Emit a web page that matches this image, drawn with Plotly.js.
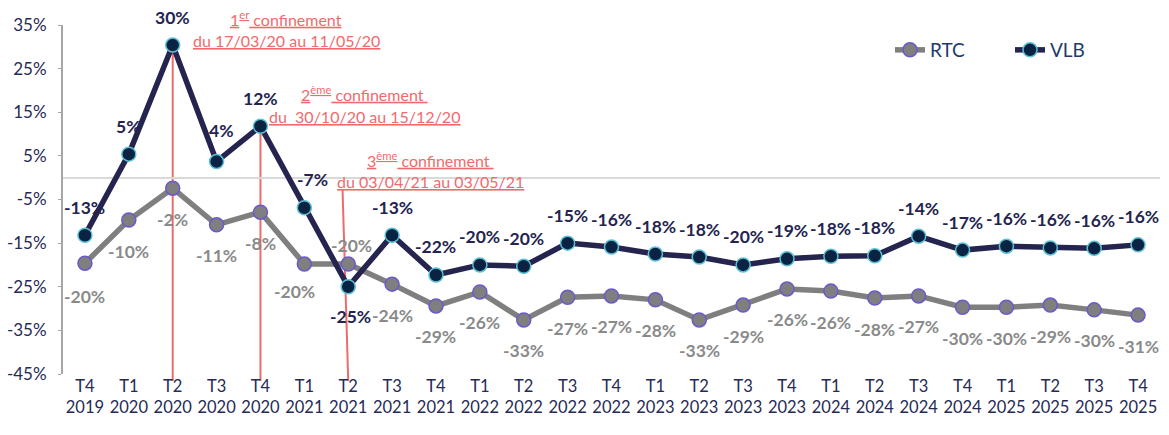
<!DOCTYPE html>
<html>
<head>
<meta charset="utf-8">
<script src="https://cdn.plot.ly/plotly-3.0.1.min.js"></script>
<style>html,body{margin:0;padding:0;background:#fff;}#chart{width:1169px;height:435px;}</style>
</head>
<body>
<div id="chart"></div>
<script>
// ---- data ----
const quarters = ["T4","T1","T2","T3","T4","T1","T2","T3","T4","T1","T2","T3","T4","T1","T2","T3","T4","T1","T2","T3","T4","T1","T2","T3","T4"];
const years    = ["2019","2020","2020","2020","2020","2021","2021","2021","2021","2022","2022","2022","2022","2023","2023","2023","2023","2024","2024","2024","2024","2025","2025","2025","2025"];
const rtc = [-19.6,-9.7,-2.4,-10.8,-7.9,-19.8,-19.8,-24.4,-29.4,-26.2,-32.6,-27.4,-27.1,-28.0,-32.6,-29.2,-25.5,-26.0,-27.6,-27.1,-29.7,-29.7,-29.2,-30.3,-31.5];
const vlb = [-13.2,5.4,30.4,3.7,11.8,-6.9,-25.0,-13.2,-22.3,-20.0,-20.3,-15.0,-15.9,-17.5,-18.2,-20.0,-18.6,-18.0,-17.9,-13.4,-16.6,-15.7,-16.1,-16.2,-15.4];
const rtcLabels = ["-20%","-10%","-2%","-11%","-8%","-20%","-20%","-24%","-29%","-26%","-33%","-27%","-27%","-28%","-33%","-29%","-26%","-26%","-28%","-27%","-30%","-30%","-29%","-30%","-31%"];
const vlbLabels = ["-13%","5%","30%","4%","12%","-7%","-25%","-13%","-22%","-20%","-20%","-15%","-16%","-18%","-18%","-20%","-19%","-18%","-18%","-14%","-17%","-16%","-16%","-16%","-16%"];
const lockdowns = [
  {idx: 2, top: "1<sup>er</sup> confinement", bottom: "du 17/03/20 au 11/05/20"},
  {idx: 4, top: "2<sup>ème</sup> confinement ", bottom: "du  30/10/20 au 15/12/20"},
  {idx: 6, top: "3<sup>ème</sup> confinement ", bottom: "du 03/04/21 au 03/05/21"}
];

const cats = quarters.map((q,i)=> q + "<br>" + years[i]);
const yMin = -45, yMax = 35;

// ---- style ----
const FONT = "Lato, 'Open Sans', sans-serif";
const navy = "#24244f";
const grey = "#7f7f7f";
const red = "#ef6b6b";

const traces = [
  {x: cats, y: rtc, name: "RTC", type: "scatter", mode: "lines+markers",
   line: {color: grey, width: 5.5},
   marker: {size: 14, color: grey, line: {color: "#6a5acd", width: 1.5}},
   cliponaxis: false, hoverinfo: "skip"},
  {x: cats, y: vlb, name: "VLB", type: "scatter", mode: "lines+markers",
   line: {color: navy, width: 5.5},
   marker: {size: 14, color: "#0a2342", line: {color: "#5bc2d6", width: 1.5}},
   cliponaxis: false, hoverinfo: "skip"}
];

// label offsets (pixels)
const vlbShift = vlb.map(()=>[0, 28]);
vlbShift[3] = [5, 31]; vlbShift[5] = [8, 28]; vlbShift[6] = [2, -30];
const rtcShift = rtc.map(()=>[0, -31]);
rtcShift[0] = [0, -33]; rtcShift[5] = [-10, -27]; rtcShift[6] = [3, 19];

const annotations = [];
vlb.forEach((v,i)=>{
  annotations.push({x: cats[i], y: v, xref: "x", yref: "y", text: "<b>"+vlbLabels[i]+"</b>", showarrow: false,
    xshift: vlbShift[i][0], yshift: vlbShift[i][1], font: {family: FONT, size: 17.5, color: navy}});
});
rtc.forEach((v,i)=>{
  annotations.push({x: cats[i], y: v, xref: "x", yref: "y", text: "<b>"+rtcLabels[i]+"</b>", showarrow: false,
    xshift: rtcShift[i][0], yshift: rtcShift[i][1], font: {family: FONT, size: 17.5, color: "#8a8a8a"}});
});

// lockdown annotation text boxes (pixel positions)
const boxPos = [
  {x: 286, y1: 18, y2: 40},
  {x: 364, y1: 93, y2: 116},
  {x: 430, y1: 159, y2: 181}
];
const W = 1169, H = 435, ml = 63, mr = 9, mt = 25, mb = 61;
const pw = W - ml - mr, ph = H - mt - mb;
const px2x = px => (px - ml) / pw;
const px2y = py => (H - mb - py) / ph;
const ul = s => '<span style="text-decoration:underline">' + s + '</span>';
lockdowns.forEach((l,k)=>{
  const b = boxPos[k];
  annotations.push({xref: "paper", yref: "paper", x: px2x(b.x), y: px2y(b.y1), text: ul(l.top), showarrow: false,
    xanchor: "center", yanchor: "middle", font: {family: FONT, size: 16, color: red}});
  annotations.push({xref: "paper", yref: "paper", x: px2x(b.x), y: px2y(b.y2), text: ul(l.bottom), showarrow: false,
    xanchor: "center", yanchor: "middle", font: {family: FONT, size: 16, color: red}});
});

// vertical red lines
const shapes = [];
const botPaper = px2y(381);
lockdowns.forEach((l,k)=>{
  let topPaper, x0 = l.idx;
  if (k < 2) { topPaper = (vlb[l.idx] - yMin) / (yMax - yMin); }
  else { topPaper = px2y(189); x0 = l.idx - 0.13; }
  shapes.push({type: "line", xref: "x", yref: "paper", x0: x0, x1: l.idx, y0: topPaper, y1: botPaper,
    line: {color: red, width: 2}, layer: "below"});
});

const layout = {
  width: W, height: H,
  margin: {l: ml, r: mr, t: mt, b: mb, pad: 0, autoexpand: false},
  paper_bgcolor: "#fff", plot_bgcolor: "#fff",
  font: {family: FONT, color: "#262a55"},
  showlegend: true,
  legend: {orientation: "h", x: px2x(890), y: px2y(50), xanchor: "left", yanchor: "middle",
    entrywidth: 75, entrywidthmode: "pixels",
    font: {family: FONT, size: 19, color: "#1f3a6b"}, bgcolor: "rgba(0,0,0,0)"},
  xaxis: {type: "category", range: [-0.5, 24.5], showgrid: false, zeroline: false, showline: false,
    ticks: "", tickangle: 0, automargin: false,
    tickfont: {family: FONT, size: 16.5, color: "#262a55"}, fixedrange: true},
  yaxis: {range: [yMin, yMax], tickvals: [-45,-35,-25,-15,-5,5,15,25,35],
    ticktext: ["-45%","-35%","-25%","-15%","-5%","5%","15%","25%","35%"],
    showgrid: false, zeroline: true, zerolinecolor: "#d9d9d9", zerolinewidth: 2, automargin: false,
    showline: true, linecolor: "#a6a6a6", linewidth: 2, ticks: "outside", ticklen: 3, tickcolor: "#a6a6a6",
    tickfont: {family: FONT, size: 17, color: "#262a55"}, ticklabelstandoff: 8, fixedrange: true},
  annotations: annotations,
  shapes: shapes
};

Plotly.newPlot("chart", traces, layout, {displayModeBar: false, staticPlot: true});
</script>
</body>
</html>
